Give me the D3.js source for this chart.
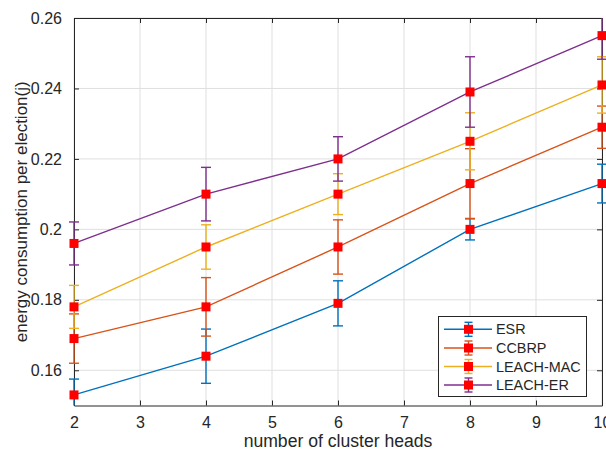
<!DOCTYPE html>
<html>
<head>
<meta charset="utf-8">
<script src="https://cdn.jsdelivr.net/npm/d3@7"></script>
<style>
  html, body { margin: 0; padding: 0; background: #fff; }
  svg { display: block; font-family: "Liberation Sans", Arial, sans-serif; }
</style>
</head>
<body>
<svg id="chart" width="606" height="452"></svg>
<script>
// ---- data ----
const clusterHeads = [2, 4, 6, 8, 10];
const seriesNames = ["ESR", "CCBRP", "LEACH-MAC", "LEACH-ER"];
const esrValues      = [0.153, 0.164, 0.179, 0.200, 0.213];
const esrErrors      = [0.0045, 0.0077, 0.0064, 0.0030, 0.0055];
const ccbrpValues    = [0.169, 0.178, 0.195, 0.213, 0.229];
const ccbrpErrors    = [0.0070, 0.0083, 0.0077, 0.0099, 0.0060];
const leachMacValues = [0.178, 0.195, 0.210, 0.225, 0.241];
const leachMacErrors = [0.0061, 0.0063, 0.0058, 0.0081, 0.0080];
const leachErValues  = [0.196, 0.210, 0.220, 0.239, 0.255];
const leachErErrors  = [0.0061, 0.0076, 0.0063, 0.0100, 0.0067];
const xTicks = [2, 3, 4, 5, 6, 7, 8, 9, 10];
const yTicks = [0.16, 0.18, 0.20, 0.22, 0.24, 0.26];
const yTickLabels = ["0.16", "0.18", "0.2", "0.22", "0.24", "0.26"];
const xLabel = "number of cluster heads";
const yLabel = "energy consumption per election(j)";

const colors = ["#0072BD", "#D95319", "#EDB120", "#7E2F8E"];
const series = [
  { name: seriesNames[0], values: esrValues, errors: esrErrors },
  { name: seriesNames[1], values: ccbrpValues, errors: ccbrpErrors },
  { name: seriesNames[2], values: leachMacValues, errors: leachMacErrors },
  { name: seriesNames[3], values: leachErValues, errors: leachErErrors }
];

// ---- layout ----
const pLeft = 74, pRight = 602, pTop = 18, pBottom = 405.5;
const svg = d3.select("#chart");
const x = d3.scaleLinear().domain([2, 10]).range([pLeft, pRight]);
const y = d3.scaleLinear().domain([0.15, 0.26]).range([pBottom, pTop]);
const axisColor = "#262626";

svg.append("defs").append("clipPath").attr("id", "clipV")
  .append("rect").attr("x", 0).attr("y", pTop).attr("width", 606).attr("height", pBottom - pTop);

// grid
const grid = svg.append("g");
grid.selectAll("line.gx").data(xTicks).join("line")
  .attr("x1", d => x(d)).attr("x2", d => x(d)).attr("y1", pTop).attr("y2", pBottom)
  .attr("stroke", "#dfdfdf").attr("stroke-width", 1);
grid.selectAll("line.gy").data(yTicks).join("line")
  .attr("y1", d => y(d)).attr("y2", d => y(d)).attr("x1", pLeft).attr("x2", pRight)
  .attr("stroke", "#dfdfdf").attr("stroke-width", 1);

// axes
const tickLen = 5;
const xAxisB = d3.axisBottom(x).tickValues(xTicks).tickSizeInner(-tickLen).tickSizeOuter(0).tickPadding(11).tickFormat(d3.format("d"));
const xAxisT = d3.axisTop(x).tickValues(xTicks).tickSizeInner(-tickLen).tickSizeOuter(0).tickFormat("");
const yAxisL = d3.axisLeft(y).tickValues(yTicks).tickSizeInner(-tickLen).tickSizeOuter(0).tickPadding(12)
  .tickFormat((d, i) => yTickLabels[i]);
const yAxisR = d3.axisRight(y).tickValues(yTicks).tickSizeInner(-tickLen).tickSizeOuter(0).tickFormat("");

function styleAxis(g) {
  g.select(".domain").attr("stroke", axisColor).attr("stroke-width", 1);
  g.selectAll(".tick line").attr("stroke", axisColor);
  g.selectAll(".tick text").attr("fill", axisColor).attr("font-size", 16)
    .attr("font-family", "'Liberation Sans', Arial, sans-serif");
}
svg.append("g").attr("transform", `translate(0,${pBottom})`).call(xAxisB).call(styleAxis);
svg.append("g").attr("transform", `translate(0,${pTop})`).call(xAxisT).call(styleAxis);
svg.append("g").attr("transform", `translate(${pLeft},0)`).call(yAxisL).call(styleAxis);
svg.append("g").attr("transform", `translate(${pRight},0)`).call(yAxisR).call(styleAxis);

// labels
svg.append("text").attr("x", (pLeft + pRight) / 2).attr("y", 447)
  .attr("text-anchor", "middle").attr("font-size", 17.6).attr("fill", axisColor).text(xLabel);
svg.append("text").attr("transform", `translate(27,${(pTop + pBottom) / 2}) rotate(-90)`)
  .attr("text-anchor", "middle").attr("font-size", 17).attr("fill", axisColor).text(yLabel);

// series
const line = d3.line().x(d => x(d.x)).y(d => y(d.v));
const capHalf = 5, markerSize = 9;
series.forEach((s, si) => {
  const pts = clusterHeads.map((cx, i) => ({ x: cx, v: s.values[i], e: s.errors[i] }));
  const g = svg.append("g");
  const gc = g.append("g").attr("clip-path", "url(#clipV)");
  gc.append("path").datum(pts).attr("d", line).attr("fill", "none")
    .attr("stroke", colors[si]).attr("stroke-width", 1.4);
  pts.forEach(p => {
    const y1 = y(p.v + p.e), y0 = y(p.v - p.e), px = x(p.x);
    gc.append("line").attr("x1", px).attr("x2", px).attr("y1", y1).attr("y2", y0)
      .attr("stroke", colors[si]).attr("stroke-width", 1.4);
    [y1, y0].forEach(cy => {
      if (cy >= pTop - 0.5 && cy <= pBottom + 0.5)
        g.append("line").attr("x1", px - capHalf).attr("x2", px + capHalf).attr("y1", cy).attr("y2", cy)
          .attr("stroke", colors[si]).attr("stroke-width", 1.4);
    });
  });
  g.selectAll("rect.m").data(pts).join("rect")
    .attr("x", d => x(d.x) - markerSize / 2).attr("y", d => y(d.v) - markerSize / 2)
    .attr("width", markerSize).attr("height", markerSize).attr("fill", "#ff0000");
});

// legend
const lg = svg.append("g");
lg.append("rect").attr("x", 438.5).attr("y", 316.5).attr("width", 148).attr("height", 80)
  .attr("fill", "#fff").attr("stroke", axisColor).attr("stroke-width", 1);
const legendY = [329.3, 348, 366.5, 385];
series.forEach((s, si) => {
  const ly = legendY[si];
  lg.append("line").attr("x1", 444).attr("x2", 492).attr("y1", ly).attr("y2", ly)
    .attr("stroke", colors[si]).attr("stroke-width", 1.4);
  lg.append("line").attr("x1", 468.5).attr("x2", 468.5).attr("y1", ly - 7).attr("y2", ly + 7)
    .attr("stroke", colors[si]).attr("stroke-width", 1.4);
  [ly - 7, ly + 7].forEach(cy => lg.append("line").attr("x1", 464.5).attr("x2", 472.5)
    .attr("y1", cy).attr("y2", cy).attr("stroke", colors[si]).attr("stroke-width", 1.4));
  lg.append("rect").attr("x", 468.5 - markerSize / 2).attr("y", ly - markerSize / 2)
    .attr("width", markerSize).attr("height", markerSize).attr("fill", "#ff0000");
  lg.append("text").attr("x", 496).attr("y", ly).attr("dy", "0.36em")
    .attr("font-size", 14.4).attr("fill", axisColor).text(s.name);
});
</script>
</body>
</html>
